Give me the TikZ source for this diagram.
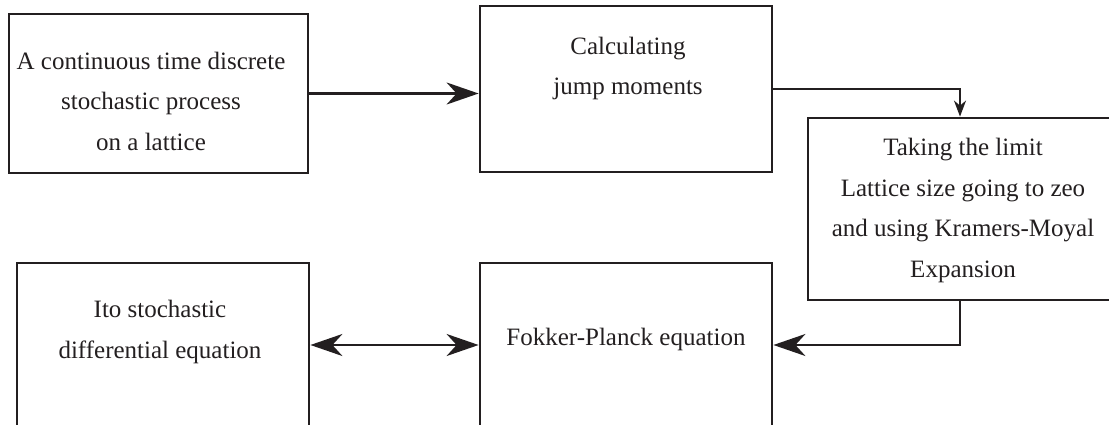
\documentclass[tikz,border=0pt]{standalone}
\usepackage{fontspec}
\setmainfont{Liberation Serif}
\usetikzlibrary{arrows.meta}
\definecolor{ink}{RGB}{35,31,32}
\tikzset{
  box/.style={draw=ink, line width=2.8pt, inner sep=0pt},
  txt/.style={text=ink, font=\fontsize{25}{40.5}\selectfont, align=center, inner sep=0pt, anchor=base},
  bigtip/.tip={Stealth[length=32pt,width=22pt,inset=10pt]},
  smalltip/.tip={Stealth[length=16pt,width=12pt,inset=5pt]},
  big/.style={draw=ink, line width=2.4pt},
  thin/.style={draw=ink, line width=2pt}
}
\begin{document}
\begin{tikzpicture}[x=1pt,y=-1pt]
\useasboundingbox (0,0) rectangle (1109,425);
\clip (0,0) rectangle (1109,425);

% boxes
\node[box, minimum width=299pt, minimum height=159pt] (b1) at (158.5,93.5) {};
\node[box, minimum width=292pt, minimum height=166pt] (b2) at (626,89) {};
\node[box, minimum width=304pt, minimum height=182pt] (b3) at (960,209) {};
\node[box, minimum width=292pt, minimum height=164pt] (b4) at (626,345) {};
\node[box, minimum width=292pt, minimum height=164pt] (b5) at (163,345) {};

% labels (anchored at the baseline of their last line)
\node[txt] (t1) at (151,150.5) {A continuous time discrete\\stochastic process\\on a lattice};
\node[txt] (t2) at (628,95) {Calculating\\jump moments};
\node[txt] (t3) at (963,277) {Taking the limit\\Lattice size going to zeo\\and using Kramers-Moyal\\Expansion};
\node[txt] (t4) at (626,345) {Fokker-Planck equation};
\node[txt] (t5) at (160,358) {Ito stochastic\\differential equation};

% connectors
\draw[big, -bigtip] (b1.east) -- (b2.west |- b1.east);
\draw[thin, -smalltip] (b2.east) -| (b3.north);
\draw[big, -bigtip] (b3.south) |- (b4.east);
\draw[big, bigtip-bigtip] (b5.east) -- (b4.west);
\end{tikzpicture}
\end{document}
